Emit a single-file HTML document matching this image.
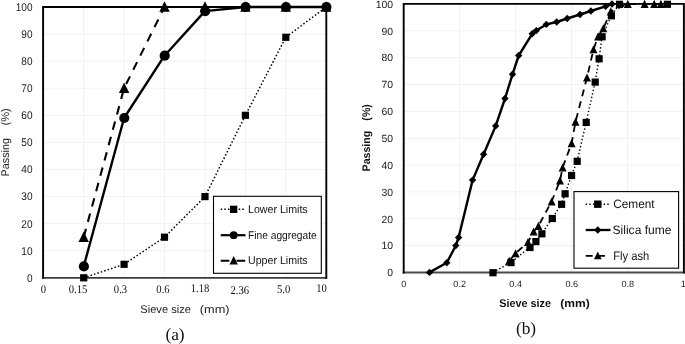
<!DOCTYPE html>
<html lang="en"><head><meta charset="utf-8"><title>Figure</title>
<style>html,body{margin:0;padding:0;background:#fff}svg{display:block;will-change:transform}text{text-rendering:geometricPrecision}</style></head>
<body>
<svg width="685" height="344" viewBox="0 0 685 344" role="img" aria-label="Sieve analysis charts">
<rect width="685" height="344" fill="#fff"/>
<g id="left">
<line x1="83.7" y1="7.0" x2="83.7" y2="277.8" stroke="#f1f1f1" stroke-width="1"/>
<line x1="124.1" y1="7.0" x2="124.1" y2="277.8" stroke="#f1f1f1" stroke-width="1"/>
<line x1="164.5" y1="7.0" x2="164.5" y2="277.8" stroke="#f1f1f1" stroke-width="1"/>
<line x1="205.0" y1="7.0" x2="205.0" y2="277.8" stroke="#f1f1f1" stroke-width="1"/>
<line x1="245.4" y1="7.0" x2="245.4" y2="277.8" stroke="#f1f1f1" stroke-width="1"/>
<line x1="285.8" y1="7.0" x2="285.8" y2="277.8" stroke="#f1f1f1" stroke-width="1"/>
<line x1="43.3" y1="250.7" x2="326.2" y2="250.7" stroke="#f1f1f1" stroke-width="1"/>
<line x1="43.3" y1="223.6" x2="326.2" y2="223.6" stroke="#f1f1f1" stroke-width="1"/>
<line x1="43.3" y1="196.6" x2="326.2" y2="196.6" stroke="#f1f1f1" stroke-width="1"/>
<line x1="43.3" y1="169.5" x2="326.2" y2="169.5" stroke="#f1f1f1" stroke-width="1"/>
<line x1="43.3" y1="142.4" x2="326.2" y2="142.4" stroke="#f1f1f1" stroke-width="1"/>
<line x1="43.3" y1="115.3" x2="326.2" y2="115.3" stroke="#f1f1f1" stroke-width="1"/>
<line x1="43.3" y1="88.2" x2="326.2" y2="88.2" stroke="#f1f1f1" stroke-width="1"/>
<line x1="43.3" y1="61.2" x2="326.2" y2="61.2" stroke="#f1f1f1" stroke-width="1"/>
<line x1="43.3" y1="34.1" x2="326.2" y2="34.1" stroke="#f1f1f1" stroke-width="1"/>
<line x1="42.1" y1="277.9" x2="327.1" y2="277.9" stroke="#3c3c3c" stroke-width="1.7"/>
<polyline points="43.1,278.7 43.1,7.0 326.3,7.0 326.3,278.7" fill="none" stroke="#000" stroke-width="1.9"/>
<text transform="translate(32.50,281.70) scale(0.9,1)" font-family='"Liberation Sans", sans-serif' font-size="11.2" text-anchor="end" fill="#222">0</text>
<text transform="translate(32.50,254.62) scale(0.9,1)" font-family='"Liberation Sans", sans-serif' font-size="11.2" text-anchor="end" fill="#222">10</text>
<text transform="translate(32.50,227.54) scale(0.9,1)" font-family='"Liberation Sans", sans-serif' font-size="11.2" text-anchor="end" fill="#222">20</text>
<text transform="translate(32.50,200.46) scale(0.9,1)" font-family='"Liberation Sans", sans-serif' font-size="11.2" text-anchor="end" fill="#222">30</text>
<text transform="translate(32.50,173.38) scale(0.9,1)" font-family='"Liberation Sans", sans-serif' font-size="11.2" text-anchor="end" fill="#222">40</text>
<text transform="translate(32.50,146.30) scale(0.9,1)" font-family='"Liberation Sans", sans-serif' font-size="11.2" text-anchor="end" fill="#222">50</text>
<text transform="translate(32.50,119.22) scale(0.9,1)" font-family='"Liberation Sans", sans-serif' font-size="11.2" text-anchor="end" fill="#222">60</text>
<text transform="translate(32.50,92.14) scale(0.9,1)" font-family='"Liberation Sans", sans-serif' font-size="11.2" text-anchor="end" fill="#222">70</text>
<text transform="translate(32.50,65.06) scale(0.9,1)" font-family='"Liberation Sans", sans-serif' font-size="11.2" text-anchor="end" fill="#222">80</text>
<text transform="translate(32.50,37.98) scale(0.9,1)" font-family='"Liberation Sans", sans-serif' font-size="11.2" text-anchor="end" fill="#222">90</text>
<text transform="translate(32.50,10.90) scale(0.9,1)" font-family='"Liberation Sans", sans-serif' font-size="11.2" text-anchor="end" fill="#222">100</text>
<text transform="translate(43.30,293.30) scale(0.9,1)" font-family='"Liberation Serif", serif' font-size="11.8" text-anchor="middle" fill="#111">0</text>
<text transform="translate(78.00,293.30) scale(0.9,1)" font-family='"Liberation Serif", serif' font-size="11.8" text-anchor="middle" fill="#111">0.15</text>
<text transform="translate(120.50,293.30) scale(0.9,1)" font-family='"Liberation Serif", serif' font-size="11.8" text-anchor="middle" fill="#111">0.3</text>
<text transform="translate(163.00,293.30) scale(0.9,1)" font-family='"Liberation Serif", serif' font-size="11.8" text-anchor="middle" fill="#111">0.6</text>
<text transform="translate(200.00,292.00) scale(0.9,1)" font-family='"Liberation Serif", serif' font-size="11.8" text-anchor="middle" fill="#111">1.18</text>
<text transform="translate(239.80,293.80) scale(0.9,1)" font-family='"Liberation Serif", serif' font-size="11.8" text-anchor="middle" fill="#111">2.36</text>
<text transform="translate(283.60,293.40) scale(0.9,1)" font-family='"Liberation Serif", serif' font-size="11.8" text-anchor="middle" fill="#111">5.0</text>
<text transform="translate(321.60,291.80) scale(0.9,1)" font-family='"Liberation Serif", serif' font-size="11.8" text-anchor="middle" fill="#111">10</text>
<polyline points="83.7,277.8 124.1,264.3 164.5,237.2 205.0,196.6 245.4,115.3 285.8,37.3 326.2,7.0" fill="none" stroke="#000" stroke-width="1.5" stroke-dasharray="1.5 2.1"/>
<polyline points="83.7,237.2 124.1,88.2 164.5,7.0 205.0,7.0 245.4,7.0 285.8,7.0 326.2,7.0" fill="none" stroke="#000" stroke-width="2.1" stroke-dasharray="8.6 7.3"/>
<polyline points="83.7,266.4 124.1,118.0 164.5,55.7 205.0,11.1 245.4,7.0 285.8,7.0 326.2,7.0" fill="none" stroke="#000" stroke-width="2.4" stroke-linejoin="round"/>
<rect x="80.1" y="274.2" width="7.2" height="7.2" fill="#000"/>
<rect x="120.5" y="260.7" width="7.2" height="7.2" fill="#000"/>
<rect x="160.9" y="233.6" width="7.2" height="7.2" fill="#000"/>
<rect x="201.4" y="193.0" width="7.2" height="7.2" fill="#000"/>
<rect x="241.8" y="111.7" width="7.2" height="7.2" fill="#000"/>
<rect x="282.2" y="33.7" width="7.2" height="7.2" fill="#000"/>
<rect x="322.6" y="3.4" width="7.2" height="7.2" fill="#000"/>
<polygon points="83.7,231.4 78.5,241.9 88.9,241.9" fill="#000"/>
<polygon points="124.1,82.4 118.9,92.9 129.3,92.9" fill="#000"/>
<polygon points="164.5,1.2 159.3,11.7 169.7,11.7" fill="#000"/>
<polygon points="205.0,1.2 199.8,11.7 210.2,11.7" fill="#000"/>
<polygon points="245.4,1.2 240.2,11.7 250.6,11.7" fill="#000"/>
<polygon points="285.8,1.2 280.6,11.7 291.0,11.7" fill="#000"/>
<polygon points="326.2,1.2 321.0,11.7 331.4,11.7" fill="#000"/>
<circle cx="83.9" cy="266.4" r="5.1" fill="#000"/>
<circle cx="124.3" cy="118.0" r="5.1" fill="#000"/>
<circle cx="164.7" cy="55.7" r="5.1" fill="#000"/>
<circle cx="205.2" cy="11.1" r="5.1" fill="#000"/>
<circle cx="245.6" cy="7.0" r="5.1" fill="#000"/>
<circle cx="286.0" cy="7.0" r="5.1" fill="#000"/>
<circle cx="326.4" cy="7.0" r="5.1" fill="#000"/>
<rect x="213.5" y="196.3" width="107.8" height="77" fill="#fff" stroke="#000" stroke-width="1.1"/>
<line x1="220.7" y1="209.3" x2="245.5" y2="209.3" stroke="#000" stroke-width="1.5" stroke-dasharray="1.5 2.1"/>
<rect x="230.0" y="205.7" width="7.3" height="7.3" fill="#000"/>
<line x1="220.7" y1="235.2" x2="245.5" y2="235.2" stroke="#000" stroke-width="2.2"/>
<circle cx="233.7" cy="235.2" r="3.9" fill="#000"/>
<line x1="220.7" y1="260.7" x2="245.5" y2="260.7" stroke="#000" stroke-width="2.1" stroke-dasharray="8.6 7.3"/>
<polygon points="233.7,256.0 229.5,264.5 237.9,264.5" fill="#000"/>
<text transform="translate(248.00,213.00) scale(0.95,1)" font-family='"Liberation Sans", sans-serif' font-size="11.2" text-anchor="start" fill="#111">Lower Limits</text>
<text transform="translate(248.00,238.90) scale(0.913,1)" font-family='"Liberation Sans", sans-serif' font-size="11.2" text-anchor="start" fill="#111">Fine aggregate</text>
<text transform="translate(248.00,264.40) scale(0.95,1)" font-family='"Liberation Sans", sans-serif' font-size="11.2" text-anchor="start" fill="#111">Upper Limits</text>
<text transform="translate(140.30,312.80)" font-family='"Liberation Sans", sans-serif' font-size="11.1" text-anchor="start" fill="#222">Sieve size</text>
<text transform="translate(229.60,312.80) scale(1.15,1)" font-family='"Liberation Sans", sans-serif' font-size="11.1" text-anchor="end" fill="#222">(mm)</text>
<text transform="translate(8.50,176.40) rotate(-90) scale(0.97,1)" font-family='"Liberation Sans", sans-serif' font-size="11.1" text-anchor="start" fill="#222">Passing</text>
<text transform="translate(8.50,108.20) rotate(-90)" font-family='"Liberation Sans", sans-serif' font-size="11.1" text-anchor="end" fill="#222">(%)</text>
<text x="175" y="339.5" font-family='"Liberation Serif", serif' font-size="17.3" text-anchor="middle" fill="#111">(a)</text>
</g>
<g id="right">
<line x1="459.4" y1="4.0" x2="459.4" y2="272.4" stroke="#f1f1f1" stroke-width="1"/>
<line x1="515.4" y1="4.0" x2="515.4" y2="272.4" stroke="#f1f1f1" stroke-width="1"/>
<line x1="571.5" y1="4.0" x2="571.5" y2="272.4" stroke="#f1f1f1" stroke-width="1"/>
<line x1="627.5" y1="4.0" x2="627.5" y2="272.4" stroke="#f1f1f1" stroke-width="1"/>
<line x1="403.4" y1="245.6" x2="683.5" y2="245.6" stroke="#f1f1f1" stroke-width="1"/>
<line x1="403.4" y1="218.7" x2="683.5" y2="218.7" stroke="#f1f1f1" stroke-width="1"/>
<line x1="403.4" y1="191.9" x2="683.5" y2="191.9" stroke="#f1f1f1" stroke-width="1"/>
<line x1="403.4" y1="165.0" x2="683.5" y2="165.0" stroke="#f1f1f1" stroke-width="1"/>
<line x1="403.4" y1="138.2" x2="683.5" y2="138.2" stroke="#f1f1f1" stroke-width="1"/>
<line x1="403.4" y1="111.4" x2="683.5" y2="111.4" stroke="#f1f1f1" stroke-width="1"/>
<line x1="403.4" y1="84.5" x2="683.5" y2="84.5" stroke="#f1f1f1" stroke-width="1"/>
<line x1="403.4" y1="57.7" x2="683.5" y2="57.7" stroke="#f1f1f1" stroke-width="1"/>
<line x1="403.4" y1="30.8" x2="683.5" y2="30.8" stroke="#f1f1f1" stroke-width="1"/>
<line x1="402.7" y1="272.55" x2="684.6" y2="272.55" stroke="#4a4a4a" stroke-width="1.9"/>
<polyline points="403.7,273.4 403.7,3.85 683.9,3.85 683.9,273.4" fill="none" stroke="#000" stroke-width="1.9"/>
<text transform="translate(393.10,276.20)" font-family='"Liberation Sans", sans-serif' font-size="10.4" text-anchor="end" fill="#222">0</text>
<text transform="translate(393.10,249.36)" font-family='"Liberation Sans", sans-serif' font-size="10.4" text-anchor="end" fill="#222">10</text>
<text transform="translate(393.10,222.52)" font-family='"Liberation Sans", sans-serif' font-size="10.4" text-anchor="end" fill="#222">20</text>
<text transform="translate(393.10,195.68)" font-family='"Liberation Sans", sans-serif' font-size="10.4" text-anchor="end" fill="#222">30</text>
<text transform="translate(393.10,168.84)" font-family='"Liberation Sans", sans-serif' font-size="10.4" text-anchor="end" fill="#222">40</text>
<text transform="translate(393.10,142.00)" font-family='"Liberation Sans", sans-serif' font-size="10.4" text-anchor="end" fill="#222">50</text>
<text transform="translate(393.10,115.16)" font-family='"Liberation Sans", sans-serif' font-size="10.4" text-anchor="end" fill="#222">60</text>
<text transform="translate(393.10,88.32)" font-family='"Liberation Sans", sans-serif' font-size="10.4" text-anchor="end" fill="#222">70</text>
<text transform="translate(393.10,61.48)" font-family='"Liberation Sans", sans-serif' font-size="10.4" text-anchor="end" fill="#222">80</text>
<text transform="translate(393.10,34.64)" font-family='"Liberation Sans", sans-serif' font-size="10.4" text-anchor="end" fill="#222">90</text>
<text transform="translate(393.10,7.80)" font-family='"Liberation Sans", sans-serif' font-size="10.4" text-anchor="end" fill="#222">100</text>
<text x="403.7" y="286.6" font-family='"Liberation Sans", sans-serif' font-size="9.1" text-anchor="middle" fill="#222">0</text>
<text x="459.7" y="286.6" font-family='"Liberation Sans", sans-serif' font-size="9.1" text-anchor="middle" fill="#222">0.2</text>
<text x="515.7" y="286.6" font-family='"Liberation Sans", sans-serif' font-size="9.1" text-anchor="middle" fill="#222">0.4</text>
<text x="571.8" y="286.6" font-family='"Liberation Sans", sans-serif' font-size="9.1" text-anchor="middle" fill="#222">0.6</text>
<text x="627.8" y="286.6" font-family='"Liberation Sans", sans-serif' font-size="9.1" text-anchor="middle" fill="#222">0.8</text>
<text x="685.8" y="286.6" font-family='"Liberation Sans", sans-serif' font-size="9.1" text-anchor="end" fill="#222">1</text>
<polyline points="493.0,272.4 511.0,262.3 530.0,247.2 535.9,241.3 541.9,233.5 552.3,218.2 561.6,204.0 565.1,193.5 571.6,175.2 577.2,161.0 586.2,122.1 595.2,81.8 599.1,58.5 602.1,36.5 611.4,15.5 619.5,4.0 667.4,4.0" fill="none" stroke="#000" stroke-width="1.4" stroke-dasharray="1.4 2.2"/>
<polyline points="509.2,260.9 515.6,253.3 528.0,242.1 533.6,231.6 538.4,226.0 551.6,201.5 560.0,180.6 562.6,167.7 571.6,143.3 575.5,121.8 587.0,77.5 593.5,49.4 598.1,36.5 603.3,28.4 610.8,11.5 627.8,4.0 644.6,4.0 654.2,4.0 660.9,4.0" fill="none" stroke="#000" stroke-width="1.8" stroke-dasharray="7 5.25"/>
<polyline points="429.5,272.4 446.8,262.7 455.8,245.6 458.6,237.5 472.6,180.1 483.6,154.3 495.7,125.9 505.0,98.5 512.5,74.3 518.7,55.5 532.2,33.8 536.3,30.6 546.3,24.4 556.7,22.0 567.2,18.5 580.0,14.5 590.9,11.0 605.6,6.4 612.0,4.0" fill="none" stroke="#000" stroke-width="2.4" stroke-linejoin="round"/>
<rect x="489.4" y="269.1" width="7.2" height="7.2" fill="#000"/>
<rect x="507.4" y="259.0" width="7.2" height="7.2" fill="#000"/>
<rect x="526.4" y="243.9" width="7.2" height="7.2" fill="#000"/>
<rect x="532.3" y="238.0" width="7.2" height="7.2" fill="#000"/>
<rect x="538.3" y="230.2" width="7.2" height="7.2" fill="#000"/>
<rect x="548.7" y="214.9" width="7.2" height="7.2" fill="#000"/>
<rect x="558.0" y="200.7" width="7.2" height="7.2" fill="#000"/>
<rect x="561.5" y="190.2" width="7.2" height="7.2" fill="#000"/>
<rect x="568.0" y="171.9" width="7.2" height="7.2" fill="#000"/>
<rect x="573.6" y="157.7" width="7.2" height="7.2" fill="#000"/>
<rect x="582.6" y="118.8" width="7.2" height="7.2" fill="#000"/>
<rect x="591.6" y="78.5" width="7.2" height="7.2" fill="#000"/>
<rect x="595.5" y="55.2" width="7.2" height="7.2" fill="#000"/>
<rect x="598.5" y="33.2" width="7.2" height="7.2" fill="#000"/>
<rect x="607.8" y="12.2" width="7.2" height="7.2" fill="#000"/>
<rect x="615.9" y="0.7" width="7.2" height="7.2" fill="#000"/>
<rect x="663.8" y="0.7" width="7.2" height="7.2" fill="#000"/>
<polygon points="509.2,256.7 505.2,264.8 513.2,264.8" fill="#000"/>
<polygon points="515.6,249.2 511.6,257.2 519.6,257.2" fill="#000"/>
<polygon points="528.0,237.9 524.0,246.0 532.0,246.0" fill="#000"/>
<polygon points="533.6,227.4 529.6,235.5 537.6,235.5" fill="#000"/>
<polygon points="538.4,221.8 534.4,229.9 542.4,229.9" fill="#000"/>
<polygon points="551.6,197.4 547.6,205.4 555.6,205.4" fill="#000"/>
<polygon points="560.0,176.4 556.0,184.5 564.0,184.5" fill="#000"/>
<polygon points="562.6,163.5 558.6,171.6 566.6,171.6" fill="#000"/>
<polygon points="571.6,139.1 567.6,147.2 575.6,147.2" fill="#000"/>
<polygon points="575.5,117.6 571.5,125.7 579.5,125.7" fill="#000"/>
<polygon points="587.0,73.4 583.0,81.4 591.0,81.4" fill="#000"/>
<polygon points="593.5,45.2 589.5,53.3 597.5,53.3" fill="#000"/>
<polygon points="598.1,32.3 594.1,40.4 602.1,40.4" fill="#000"/>
<polygon points="603.3,24.2 599.3,32.3 607.3,32.3" fill="#000"/>
<polygon points="610.8,7.3 606.8,15.4 614.8,15.4" fill="#000"/>
<polygon points="627.8,-0.2 623.8,7.9 631.8,7.9" fill="#000"/>
<polygon points="644.6,-0.2 640.6,7.9 648.6,7.9" fill="#000"/>
<polygon points="654.2,-0.2 650.2,7.9 658.2,7.9" fill="#000"/>
<polygon points="660.9,-0.2 656.9,7.9 664.9,7.9" fill="#000"/>
<polygon points="429.5,268.7 433.2,272.4 429.5,276.1 425.8,272.4" fill="#000"/>
<polygon points="446.8,259.0 450.5,262.7 446.8,266.4 443.1,262.7" fill="#000"/>
<polygon points="455.8,241.9 459.5,245.6 455.8,249.3 452.1,245.6" fill="#000"/>
<polygon points="458.6,233.8 462.3,237.5 458.6,241.2 454.9,237.5" fill="#000"/>
<polygon points="472.6,176.4 476.3,180.1 472.6,183.8 468.9,180.1" fill="#000"/>
<polygon points="483.6,150.6 487.3,154.3 483.6,158.0 479.9,154.3" fill="#000"/>
<polygon points="495.7,122.2 499.4,125.9 495.7,129.6 492.0,125.9" fill="#000"/>
<polygon points="505.0,94.8 508.7,98.5 505.0,102.2 501.3,98.5" fill="#000"/>
<polygon points="512.5,70.6 516.2,74.3 512.5,78.0 508.8,74.3" fill="#000"/>
<polygon points="518.7,51.8 522.4,55.5 518.7,59.2 515.0,55.5" fill="#000"/>
<polygon points="532.2,30.1 535.9,33.8 532.2,37.5 528.5,33.8" fill="#000"/>
<polygon points="536.3,26.9 540.0,30.6 536.3,34.3 532.6,30.6" fill="#000"/>
<polygon points="546.3,20.7 550.0,24.4 546.3,28.1 542.6,24.4" fill="#000"/>
<polygon points="556.7,18.3 560.4,22.0 556.7,25.7 553.0,22.0" fill="#000"/>
<polygon points="567.2,14.8 570.9,18.5 567.2,22.2 563.5,18.5" fill="#000"/>
<polygon points="580.0,10.8 583.7,14.5 580.0,18.2 576.3,14.5" fill="#000"/>
<polygon points="590.9,7.3 594.6,11.0 590.9,14.7 587.2,11.0" fill="#000"/>
<polygon points="605.6,2.7 609.3,6.4 605.6,10.1 601.9,6.4" fill="#000"/>
<polygon points="612.0,0.3 615.7,4.0 612.0,7.7 608.3,4.0" fill="#000"/>
<rect x="574" y="191.6" width="104.6" height="76.6" fill="#fff" stroke="#000" stroke-width="1.1"/>
<line x1="585.7" y1="204.2" x2="609.7" y2="204.2" stroke="#000" stroke-width="1.4" stroke-dasharray="1.4 2.2"/>
<rect x="594.1" y="200.5" width="7.4" height="7.4" fill="#000"/>
<line x1="585.7" y1="230" x2="610.5" y2="230" stroke="#000" stroke-width="2.3"/>
<polygon points="597.8,226.3 601.5,230.0 597.8,233.7 594.1,230.0" fill="#000"/>
<line x1="585.7" y1="255.8" x2="610" y2="255.8" stroke="#000" stroke-width="1.8" stroke-dasharray="7 5.25"/>
<polygon points="597.8,251.5 594.0,259.2 601.6,259.2" fill="#000"/>
<text transform="translate(613.20,208.40) scale(0.97,1)" font-family='"Liberation Sans", sans-serif' font-size="12.2" text-anchor="start" fill="#111">Cement</text>
<text transform="translate(612.60,234.20) scale(0.986,1)" font-family='"Liberation Sans", sans-serif' font-size="12.2" text-anchor="start" fill="#111">Silica fume</text>
<text transform="translate(613.20,260.00) scale(0.917,1)" font-family='"Liberation Sans", sans-serif' font-size="12.2" text-anchor="start" fill="#111">Fly ash</text>
<text transform="translate(499.20,307.20) scale(0.97,1)" font-family='"Liberation Sans", sans-serif' font-size="11.2" font-weight="bold" text-anchor="start" fill="#111">Sieve size</text>
<text transform="translate(589.70,307.20) scale(1.077,1)" font-family='"Liberation Sans", sans-serif' font-size="11.2" font-weight="bold" text-anchor="end" fill="#111">(mm)</text>
<text transform="translate(369.80,171.40) rotate(-90) scale(0.96,1)" font-family='"Liberation Sans", sans-serif' font-size="11.0" font-weight="bold" text-anchor="start" fill="#111">Passing</text>
<text transform="translate(369.80,104.20) rotate(-90) scale(0.96,1)" font-family='"Liberation Sans", sans-serif' font-size="11.0" font-weight="bold" text-anchor="end" fill="#111">(%)</text>
<text x="526" y="333.5" font-family='"Liberation Serif", serif' font-size="17.3" text-anchor="middle" fill="#111">(b)</text>
</g>
</svg>
</body></html>
